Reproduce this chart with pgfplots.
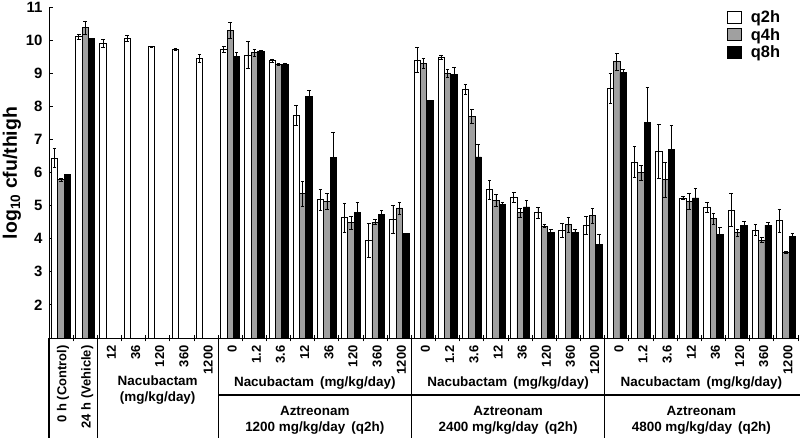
\documentclass[border=0pt]{standalone}
\usepackage{fontspec}
\setmainfont{Liberation Sans}
\usepackage{pgfplots}
\usepackage{pgfplotstable}
\pgfplotsset{compat=1.18}
\definecolor{barg}{RGB}{160,160,160}

\pgfplotstableread{
x y e
0 6.44 0.28
1 10.10 0.08
2 9.90 0.12
3 10.05 0.08
4 9.80 0.02
5 9.72 0.03
6 9.45 0.12
7 9.72 0.10
8 9.55 0.40
9 9.38 0.05
10 7.72 0.30
11 5.18 0.32
12 4.63 0.45
13 3.95 0.50
14 4.58 0.42
15 9.40 0.38
16 9.48 0.07
17 8.52 0.15
18 5.48 0.28
19 5.25 0.16
20 4.78 0.18
21 4.25 0.20
22 4.40 0.28
23 8.55 0.45
24 6.32 0.47
25 6.64 0.82
26 5.23 0.05
27 4.96 0.15
28 4.86 0.50
29 4.26 0.17
30 4.55 0.35
}\qtwo

\pgfplotstableread{
x y e
0 5.78 0.05
1 10.38 0.20
7 10.30 0.25
8 9.62 0.10
9 9.27 0.03
10 5.36 0.37
11 5.13 0.25
12 4.48 0.20
13 4.50 0.08
14 4.93 0.18
15 9.30 0.15
16 9.00 0.13
17 7.69 0.22
18 5.16 0.17
19 4.78 0.15
20 4.38 0.05
21 4.43 0.23
22 4.70 0.23
23 9.35 0.25
24 5.99 0.23
25 5.78 0.52
26 5.13 0.25
27 4.61 0.17
28 4.18 0.10
29 3.96 0.07
30 3.58 0.03
}\qfour

\pgfplotstableread{
x y e
0 5.93 0.00
1 10.05 0.00
7 9.50 0.13
8 9.65 0.03
9 9.27 0.04
10 8.29 0.20
11 6.46 0.76
12 4.80 0.31
13 4.73 0.12
14 4.15 0.02
15 8.17 0.02
16 8.95 0.23
17 6.47 0.37
18 5.03 0.07
19 4.96 0.19
20 4.20 0.08
21 4.20 0.08
22 3.83 0.30
23 9.02 0.10
24 7.52 1.04
25 6.69 0.72
26 5.23 0.30
27 4.13 0.20
28 4.40 0.13
29 4.41 0.09
30 4.06 0.09
}\qeight

\begin{document}
\begin{tikzpicture}
\path[use as bounding box] (0bp,0bp) rectangle (800bp,445bp);
\begin{axis}[
  at={(49bp,107bp)}, anchor=south west,
  width=749bp, height=331bp, scale only axis,
  xmin=-0.5, xmax=30.5, ymin=1, ymax=11,
  axis lines*=left,
  axis line style={line width=1bp},
  ybar=0pt, bar width=6.4bp,
  ytick={2,...,11},
  ytick align=inside,
  major tick length=4bp,
  tick style={black, line width=0.9bp},
  /pgf/number format/assume math mode=true,
  y tick label style={font=\fontsize{15}{17}\selectfont\bfseries, xshift=-3bp},
  xtick={0,...,30},
  xtick style={draw=none},
  xticklabels={0 h (Control),24 h (Vehicle),12,36,120,360,1200,0,1.2,3.6,12,36,120,360,1200,0,1.2,3.6,12,36,120,360,1200,0,1.2,3.6,12,36,120,360,1200},
  x tick label style={rotate=90, anchor=east, font=\fontsize{13}{14}\selectfont\bfseries, yshift=-2bp},
  extra x ticks={0.5,1.5,...,30.5},
  extra x tick labels={},
  extra x tick style={xtick style={draw=black, line width=0.9bp}, tick align=center, major tick length=7bp},
  legend style={at={(rel axis cs:0.905,0.995)}, anchor=north west, draw=none, fill=none,
    font=\fontsize{16.5}{17}\selectfont\bfseries, inner sep=0pt, row sep=0bp,
    /tikz/every odd column/.append style={column sep=7bp}},
  legend cell align=left,
  legend image code/.code={\draw[#1, draw=black, line width=0.9bp] (0bp,-6bp) rectangle (14bp,6bp);},
  error bars/y dir=both, error bars/y explicit,
  error bars/error bar style={black, line width=0.7bp},
  error bars/error mark options={rotate=90, black, mark size=1.8bp, line width=0.7bp},
]
\addplot[draw=black, line width=0.8bp, fill=white] table[x=x, y=y, y error=e] {\qtwo};
\addplot[draw=black, line width=0.8bp, fill=barg] table[x=x, y=y, y error=e] {\qfour};
\addplot[draw=black, line width=0.8bp, fill=black] table[x=x, y=y, y error=e] {\qeight};
\legend{q2h,q4h,q8h}
\end{axis}
% table lines below the axis
\begin{scope}[line width=1.1bp]
\draw (49bp,107bp) -- (49bp,7bp);
\draw (97.3bp,107bp) -- (97.3bp,7bp);
\draw (218.1bp,107bp) -- (218.1bp,7bp);
\draw (411.4bp,107bp) -- (411.4bp,7bp);
\draw (604.7bp,107bp) -- (604.7bp,7bp);
\draw (218.1bp,50bp) -- (800bp,50bp);
\end{scope}
\begin{scope}[every node/.style={font=\fontsize{13.5}{16}\selectfont\bfseries, align=center, inner sep=0pt}]
\node at (157.7bp,55bp) {Nacubactam\\(mg/kg/day)};
\node at (314.8bp,62bp) {Nacubactam\hspace{0.45em}(mg/kg/day)};
\node at (508.1bp,62bp) {Nacubactam\hspace{0.45em}(mg/kg/day)};
\node at (701.4bp,62bp) {Nacubactam\hspace{0.45em}(mg/kg/day)};
\node at (314.8bp,25bp) {Aztreonam\\1200 mg/kg/day\hspace{0.45em}(q2h)};
\node at (508.1bp,25bp) {Aztreonam\\2400 mg/kg/day\hspace{0.45em}(q2h)};
\node at (701.4bp,25bp) {Aztreonam\\4800 mg/kg/day\hspace{0.45em}(q2h)};
\end{scope}
\node[rotate=90, font=\fontsize{19.5}{21}\selectfont\bfseries, inner sep=0pt] at (12bp,272bp) {log\textsubscript{10} cfu/thigh};
\end{tikzpicture}
\end{document}
